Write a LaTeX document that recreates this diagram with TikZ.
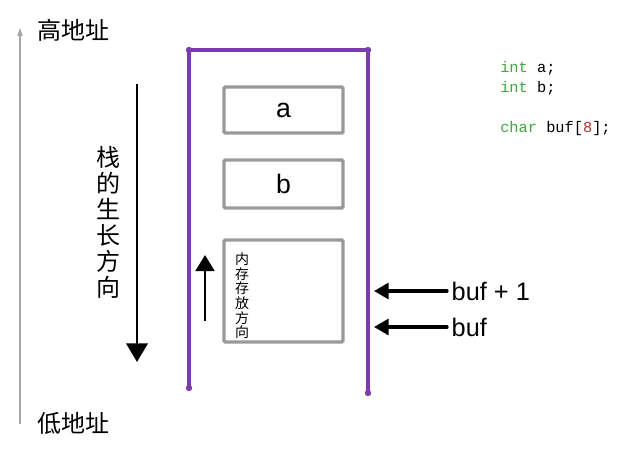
\documentclass[tikz,border=0pt]{standalone}
\usepackage{fontspec}
\setmainfont{Liberation Sans}
\newfontfamily\cjk{Noto Sans CJK SC}
\newfontfamily\codefont{Liberation Mono}
\usetikzlibrary{arrows.meta}

\begin{document}
\begin{tikzpicture}[x=0.75pt, y=-0.75pt, >={Triangle[length=9pt, width=9pt]}]
    \definecolor{framecolor}{RGB}{125,60,172}
    \colorlet{boxcolor}{gray!80}
    \definecolor{kwcolor}{RGB}{60,170,60}
    \definecolor{numcolor}{RGB}{175,45,40}
    \tikzset{
        cell/.style={draw=boxcolor, line width=2.6pt, rounded corners=1pt,
                     minimum width=119*0.75pt, inner sep=0pt},
        bigtext/.style={font=\cjk\fontsize{18}{20}\selectfont},
        ptrtext/.style={font=\fontsize{19}{22}\selectfont, anchor=west}
    }
    \useasboundingbox (0,0) rectangle (636,455);

    % --- address axis ---
    \coordinate (low) at (20,424);
    \coordinate (high) at (20,28);
    \draw[->, >={Triangle[length=6pt, width=4pt]}, gray!70, line width=0.8pt] (low) -- (high);
    \node[bigtext, anchor=west] (hi) at (33,30) {高地址};
    \node[bigtext, anchor=west] (lo) at (33,423) {低地址};

    % --- stack frame ---
    \draw[framecolor, line width=2.4pt, line cap=round, line join=round]
        (189,388) -- (189,50) -- (368,50) -- (368,393);
    \foreach \p in {(189,50), (368,50), (189,388), (368,393)} {
        \fill[framecolor] \p circle (2.4pt);
    }

    % --- cells ---
    \node[cell, minimum height=46*0.75pt, font=\fontsize{20}{22}\selectfont] (a) at (283.5,110) {a};
    \node[cell, minimum height=48*0.75pt, font=\fontsize{20}{22}\selectfont] (b) at (283.5,184) {b};
    \node[cell, minimum height=102*0.75pt] (buf) at (283.5,291) {};
    \node[font=\cjk\fontsize{10.5}{11}\selectfont, align=center, anchor=north] (dir) at (242,248)
        {内\\存\\存\\放\\方\\向};

    % --- memory direction ---
    \coordinate (m1) at (205,321);
    \coordinate (m2) at (205,255);
    \draw[->, line width=2.2pt, >={Triangle[length=12pt, width=14pt]}] (m1) -- (m2);

    % --- stack growth ---
    \coordinate (g1) at (137,84);
    \coordinate (g2) at (137,362);
    \draw[->, line width=2.2pt, >={Triangle[length=14pt, width=16pt]}] (g1) -- (g2);
    \node[font=\cjk\fontsize{18}{19.5}\selectfont, align=center] (grow) at (108,222)
        {栈\\的\\生\\长\\方\\向};

    % --- pointers ---
    \node[ptrtext] (p1) at (447,291) {buf + 1};
    \node[ptrtext] (p0) at (447,327) {buf};
    \coordinate (t1) at (374,291);
    \coordinate (t0) at (374,327);
    \draw[->, line width=2.4pt, line cap=round, >={Triangle[length=11pt, width=12pt]}] (p1.west) -- (t1);
    \draw[->, line width=2.4pt, line cap=round, >={Triangle[length=11pt, width=12pt]}] (p0.west) -- (t0);

    % --- code ---
    \begin{scope}[every node/.style={anchor=west, inner sep=0pt, font=\codefont\fontsize{11.5}{13}\selectfont}]
        \node (ca) at (500,68) {\textcolor{kwcolor}{int} a;};
        \node (cb) at (500,88) {\textcolor{kwcolor}{int} b;};
        \node (cc) at (500,129) {\textcolor{kwcolor}{char} buf[\textcolor{numcolor}{8}];};
    \end{scope}
\end{tikzpicture}
\end{document}
